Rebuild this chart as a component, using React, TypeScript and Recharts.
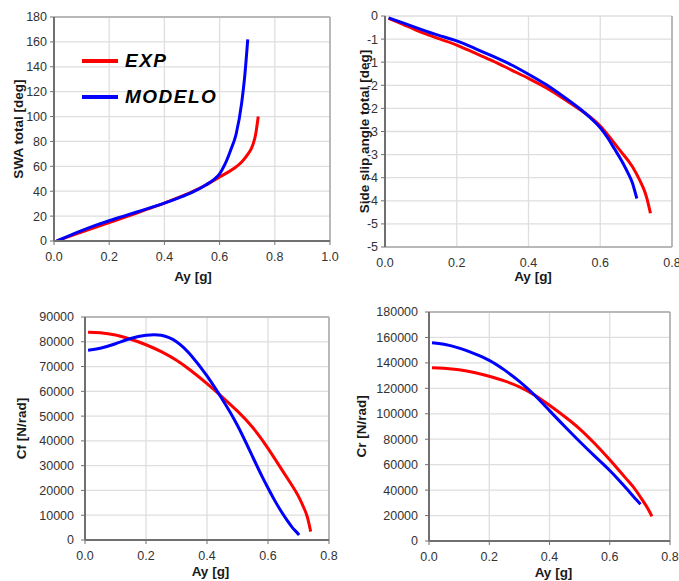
import {
  LineChart,
  Line,
  XAxis,
  YAxis,
  CartesianGrid,
  ReferenceLine,
  Legend,
} from 'recharts'

// lateral acceleration grids (g) for each series
const ayExp = [0.01, 0.05, 0.1, 0.15, 0.2, 0.25, 0.3, 0.35, 0.4, 0.45, 0.5, 0.55, 0.6, 0.65, 0.68, 0.7, 0.72, 0.73, 0.74]
const ayModelo = [0.01, 0.05, 0.1, 0.15, 0.2, 0.25, 0.3, 0.35, 0.4, 0.45, 0.5, 0.55, 0.58, 0.6, 0.62, 0.64, 0.66, 0.68, 0.69, 0.702]

const swaExp = [0, 3.3, 7.2, 11, 14.8, 18.6, 22.5, 26.5, 30.5, 34.8, 39.5, 45, 51.5, 58, 63.5, 69, 77, 85, 100]
const swaModelo = [0, 3.8, 8.3, 12.5, 16.3, 19.8, 23.3, 26.8, 30.5, 34.5, 39, 45, 49.5, 54, 62, 73, 86, 111, 130, 162]

const slipExp = [-0.05, -0.18, -0.35, -0.49, -0.63, -0.8, -0.97, -1.16, -1.35, -1.56, -1.8, -2.06, -2.38, -2.86, -3.15, -3.4, -3.72, -3.95, -4.27]
const slipModelo = [-0.04, -0.15, -0.29, -0.42, -0.54, -0.7, -0.87, -1.05, -1.26, -1.49, -1.76, -2.05, -2.26, -2.42, -2.63, -2.88, -3.14, -3.44, -3.62, -3.95]

const cfExp = [83800, 83600, 82700, 81000, 78800, 76000, 72500, 68100, 63100, 57700, 52000, 45400, 37000, 27500, 21800, 17600, 12300, 8800, 3400]
const cfModelo = [76600, 77400, 79200, 81300, 82600, 82600, 80000, 74200, 66200, 56800, 46200, 33500, 25800, 21000, 16400, 12200, 8400, 5000, 3700, 2000]

const crExp = [136200, 135800, 134600, 132500, 129500, 125800, 121200, 114800, 106700, 97900, 88200, 76600, 63800, 50200, 42000, 35200, 28000, 24000, 19400]
const crModelo = [155800, 154600, 151600, 147300, 142000, 134500, 125500, 114800, 102500, 90200, 78200, 66700, 60000, 55400, 50500, 45300, 40000, 34600, 32000, 28900]

const ayTicks10 = [0, 0.2, 0.4, 0.6, 0.8, 1.0]
const ayTicks08 = [0, 0.2, 0.4, 0.6, 0.8]
const swaTicks = [0, 20, 40, 60, 80, 100, 120, 140, 160, 180]
const slipTicks = [0, -0.5, -1, -1.5, -2, -2.5, -3, -3.5, -4, -4.5, -5]
const cfTicks = [0, 10000, 20000, 30000, 40000, 50000, 60000, 70000, 80000, 90000]
const crTicks = [0, 20000, 40000, 60000, 80000, 100000, 120000, 140000, 160000, 180000]

const FONT = '"Liberation Sans", Arial, sans-serif'
const RED = '#ff0000'
const BLUE = '#0000ff'
const AXIS = '#707070'
const BORDER = '#a8a8a8'
const GRID = '#dedede'

const toPoints = (ay: number[], v: number[]) => ay.map((x, i) => ({ ay: x, v: v[i] }))

// excel "0" format rounds halves away from zero
const roundFmt = (v: number) => (v === 0 ? '0' : String(-Math.round(-v)))

// eslint-disable-next-line @typescript-eslint/no-explicit-any
function YTitle({ viewBox, value, cx, halo }: any) {
  const y = viewBox.y + viewBox.height / 2
  return (
    <text
      x={cx}
      y={y}
      transform={`rotate(-90 ${cx} ${y})`}
      textAnchor="middle"
      dominantBaseline="central"
      fontFamily={FONT}
      fontSize={13.5}
      fontWeight="bold"
      fill="#1a1a1a"
      stroke={halo ? '#fff' : 'none'}
      strokeWidth={halo ? 4 : 0}
      strokeLinejoin="round"
      paintOrder="stroke"
    >
      {value}
    </text>
  )
}

// eslint-disable-next-line @typescript-eslint/no-explicit-any
function XTitle({ viewBox, value, cy, dx }: any) {
  return (
    <text
      x={viewBox.x + viewBox.width / 2 + dx}
      y={cy}
      textAnchor="middle"
      dominantBaseline="central"
      fontFamily={FONT}
      fontSize={13.5}
      fontWeight="bold"
      fill="#1a1a1a"
    >
      {value}
    </text>
  )
}

// eslint-disable-next-line @typescript-eslint/no-explicit-any
function LegendBox({ payload }: any) {
  return (
    <div>
      {payload.map((e: { value: string; color: string }) => (
        <div key={e.value} style={{ display: 'flex', alignItems: 'center', height: 36 }}>
          <span style={{ width: 36, height: 4, background: e.color, marginRight: 7 }} />
          <span
            style={{
              fontFamily: FONT,
              fontSize: 19,
              fontWeight: 'bold',
              fontStyle: 'italic',
              letterSpacing: 1.5,
              color: '#000',
            }}
          >
            {e.value}
          </span>
        </div>
      ))}
    </div>
  )
}

interface PanelProps {
  left: number
  top: number
  width: number
  height: number
  margin: { top: number; right: number; bottom: number; left: number }
  yWidth: number
  xHeight: number
  xTicks: number[]
  yTicks: number[]
  yFmt?: (v: number) => string
  yTickMargin: number
  yTitle: string
  yTitleX: number
  xTitleY: number
  xTitleDx: number
  exp: number[]
  modelo: number[]
  curve: 'monotone' | 'natural'
  legend?: boolean
  axisOnTop?: boolean
  halo?: boolean
}

const tickStyle = { fill: '#333', fontSize: 12.5, fontFamily: FONT }

function Panel(p: PanelProps) {
  const xMax = p.xTicks[p.xTicks.length - 1]
  const yMin = Math.min(...p.yTicks)
  const yMax = Math.max(...p.yTicks)
  return (
    <div style={{ position: 'absolute', left: p.left, top: p.top }}>
      <LineChart width={p.width} height={p.height} margin={p.margin}>
        <CartesianGrid stroke={GRID} strokeWidth={1.3} />
        <XAxis
          type="number"
          dataKey="ay"
          domain={[0, xMax]}
          ticks={p.xTicks}
          interval={0}
          allowDataOverflow
          tickFormatter={(v: number) => v.toFixed(1)}
          height={p.xHeight}
          tick={tickStyle}
          tickSize={4}
          tickMargin={7}
          axisLine={p.axisOnTop ? false : { stroke: AXIS, strokeWidth: 2 }}
          tickLine={p.axisOnTop ? false : { stroke: AXIS }}
          label={<XTitle value="Ay [g]" cy={p.xTitleY} dx={p.xTitleDx} />}
        />
        {p.axisOnTop && (
          <XAxis
            xAxisId="top"
            orientation="top"
            type="number"
            domain={[0, xMax]}
            ticks={p.xTicks}
            interval={0}
            allowDataOverflow
            height={0}
            tickFormatter={() => ''}
            tickSize={4}
            axisLine={{ stroke: AXIS, strokeWidth: 2 }}
            tickLine={{ stroke: AXIS }}
          />
        )}
        <YAxis
          type="number"
          domain={[yMin, yMax]}
          ticks={p.yTicks}
          interval={0}
          allowDataOverflow
          width={p.yWidth}
          tickFormatter={p.yFmt}
          tick={tickStyle}
          tickSize={4}
          tickMargin={p.yTickMargin}
          axisLine={{ stroke: AXIS, strokeWidth: 2 }}
          tickLine={{ stroke: AXIS }}
          label={<YTitle value={p.yTitle} cx={p.yTitleX} halo={p.halo} />}
        />
        <ReferenceLine x={xMax} stroke={BORDER} strokeWidth={1.5} />
        <ReferenceLine y={p.axisOnTop ? yMin : yMax} stroke={BORDER} strokeWidth={1.5} />
        <Line
          data={toPoints(ayExp, p.exp)}
          dataKey="v"
          name="EXP"
          type={p.curve}
          stroke={RED}
          strokeWidth={3}
          dot={false}
          isAnimationActive={false}
        />
        <Line
          data={toPoints(ayModelo, p.modelo)}
          dataKey="v"
          name="MODELO"
          type={p.curve}
          stroke={BLUE}
          strokeWidth={3}
          dot={false}
          isAnimationActive={false}
        />
        {p.legend && (
          <Legend
            layout="vertical"
            align="center"
            verticalAlign="middle"
            content={<LegendBox />}
            wrapperStyle={{ position: 'absolute', left: 82, top: 43, width: 'auto' }}
          />
        )}
      </LineChart>
    </div>
  )
}

export default function App() {
  return (
    <div
      style={{
        position: 'absolute',
        left: 0,
        top: 0,
        width: 679,
        height: 581,
        background: '#fff',
        overflow: 'hidden',
      }}
    >
      <Panel
        left={0}
        top={0}
        width={340}
        height={290}
        margin={{ top: 17, right: 10, bottom: 9, left: 0 }}
        yWidth={54}
        xHeight={40}
        xTicks={ayTicks10}
        yTicks={swaTicks}
        yTickMargin={3}
        yTitle="SWA total [deg]"
        yTitleX={18}
        xTitleY={276}
        xTitleDx={1}
        exp={swaExp}
        modelo={swaModelo}
        curve="monotone"
        legend
      />
      <Panel
        left={340}
        top={0}
        width={339}
        height={290}
        margin={{ top: 16, right: 7, bottom: 3, left: 0 }}
        yWidth={45}
        xHeight={40}
        xTicks={ayTicks08}
        yTicks={slipTicks}
        yFmt={roundFmt}
        yTickMargin={3}
        yTitle="Side slip angle total [deg]"
        yTitleX={24}
        xTitleY={276}
        xTitleDx={4.5}
        exp={slipExp}
        modelo={slipModelo}
        curve="natural"
        axisOnTop
        halo
      />
      <Panel
        left={0}
        top={290}
        width={340}
        height={291}
        margin={{ top: 27, right: 11, bottom: 5, left: 0 }}
        yWidth={85}
        xHeight={36}
        xTicks={ayTicks08}
        yTicks={cfTicks}
        yTickMargin={7}
        yTitle="Cf [N/rad]"
        yTitleX={21.7}
        xTitleY={281.7}
        xTitleDx={3.5}
        exp={cfExp}
        modelo={cfModelo}
        curve="natural"
      />
      <Panel
        left={340}
        top={290}
        width={339}
        height={291}
        margin={{ top: 22, right: 9, bottom: 4, left: 0 }}
        yWidth={89}
        xHeight={36}
        xTicks={ayTicks08}
        yTicks={crTicks}
        yTickMargin={7}
        yTitle="Cr [N/rad]"
        yTitleX={21.7}
        xTitleY={282.7}
        xTitleDx={4}
        exp={crExp}
        modelo={crModelo}
        curve="natural"
      />
    </div>
  )
}
